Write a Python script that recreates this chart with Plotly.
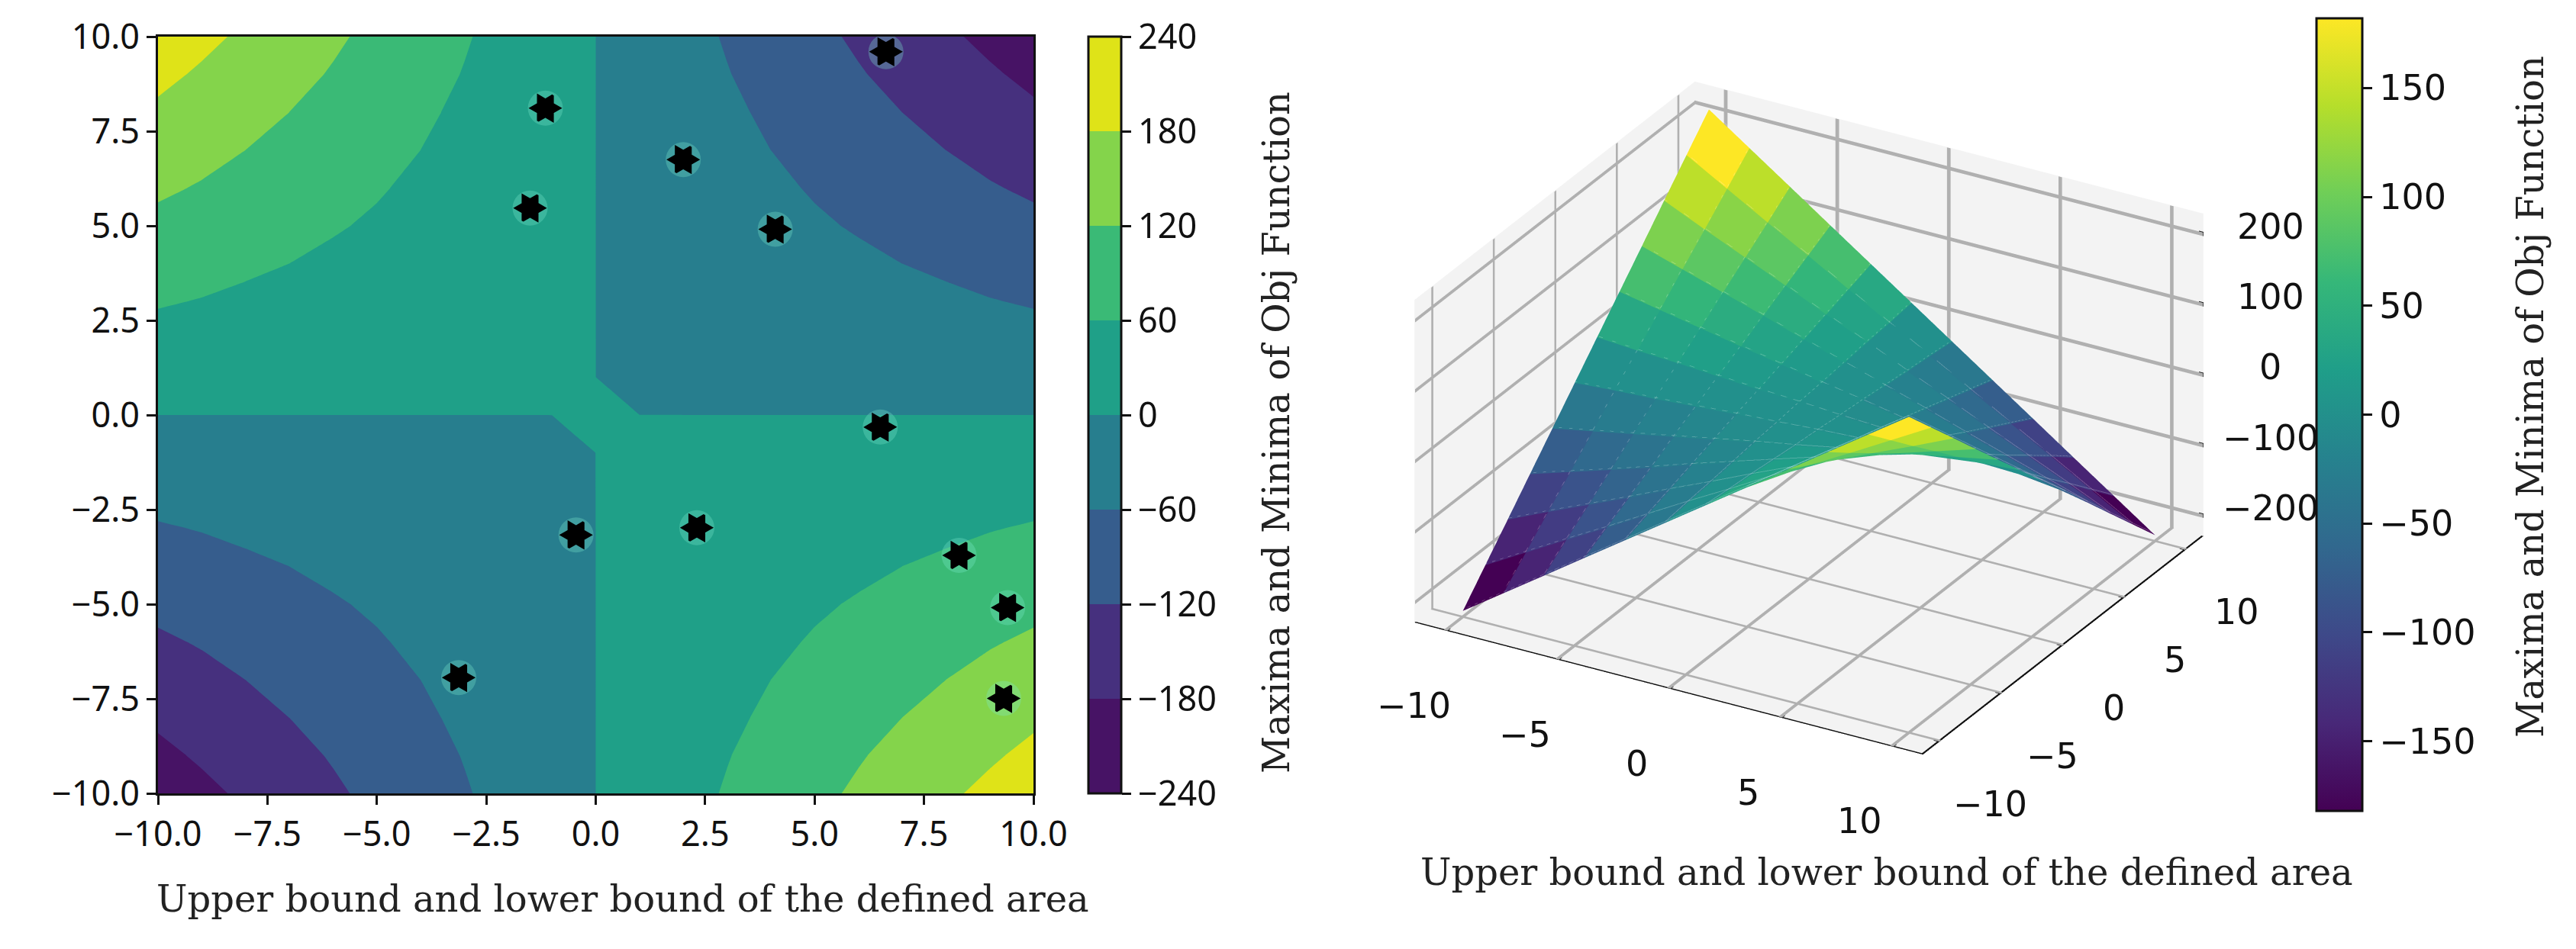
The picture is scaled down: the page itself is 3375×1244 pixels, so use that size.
import plotly.graph_objects as go

W, H = 3375, 1244
def px(v): return (v-8)/W
def py(v): return 1-(v-8)/H

# ---------- left panel data ----------
grid_x = [-10,-9,-8,-7,-6,-5,-4,-3,-2,-1,0,1,2,3,4,5,6,7,8,9,10]
grid_y = [10,9,8,7,6,5,4,3,2,1,0,-1,-2,-3,-4,-5,-6,-7,-8,-9,-10]
O = 0.01
contour_z = [
[214,193,171,150,128,107,86,64,43,21,O,-21,-43,-64,-86,-107,-128,-150,-171,-193,-214],
[193,173,154,135,116,96,77,58,39,19,O,-19,-39,-58,-77,-96,-116,-135,-154,-173,-193],
[171,154,137,120,103,86,68,51,34,17,O,-17,-34,-51,-68,-86,-103,-120,-137,-154,-171],
[150,135,120,105,90,75,60,45,30,15,O,-15,-30,-45,-60,-75,-90,-105,-120,-135,-150],
[128,116,103,90,77,64,51,39,26,13,O,-13,-26,-39,-51,-64,-77,-90,-103,-116,-128],
[107,96,86,75,64,54,43,32,21,11,O,-11,-21,-32,-43,-54,-64,-75,-86,-96,-107],
[86,77,68,60,51,43,34,26,17,9,O,-9,-17,-26,-34,-43,-51,-60,-68,-77,-86],
[64,58,51,45,39,32,26,19,13,6,O,-6,-13,-19,-26,-32,-39,-45,-51,-58,-64],
[43,39,34,30,26,21,17,13,9,4,O,-4,-9,-13,-17,-21,-26,-30,-34,-39,-43],
[21,19,17,15,13,11,9,6,4,2,O,-2,-4,-6,-9,-11,-13,-15,-17,-19,-21],
[O,O,O,O,O,O,O,O,O,O,O,O,O,O,O,O,O,O,O,O,O],
[-21,-19,-17,-15,-13,-11,-9,-6,-4,-2,O,2,4,6,9,11,13,15,17,19,21],
[-43,-39,-34,-30,-26,-21,-17,-13,-9,-4,O,4,9,13,17,21,26,30,34,39,43],
[-64,-58,-51,-45,-39,-32,-26,-19,-13,-6,O,6,13,19,26,32,39,45,51,58,64],
[-86,-77,-68,-60,-51,-43,-34,-26,-17,-9,O,9,17,26,34,43,51,60,68,77,86],
[-107,-96,-86,-75,-64,-54,-43,-32,-21,-11,O,11,21,32,43,54,64,75,86,96,107],
[-128,-116,-103,-90,-77,-64,-51,-39,-26,-13,O,13,26,39,51,64,77,90,103,116,128],
[-150,-135,-120,-105,-90,-75,-60,-45,-30,-15,O,15,30,45,60,75,90,105,120,135,150],
[-171,-154,-137,-120,-103,-86,-68,-51,-34,-17,O,17,34,51,68,86,103,120,137,154,171],
[-193,-173,-154,-135,-116,-96,-77,-58,-39,-19,O,19,39,58,77,96,116,135,154,173,193],
[-214,-193,-171,-150,-128,-107,-86,-64,-43,-21,O,21,43,64,86,107,128,150,171,193,214],
]
star_x = [6.63,-1.15,2.0,-1.5,4.1,6.5,-0.45,2.31,8.3,9.41,9.32,-3.13]
star_y = [9.6,8.11,6.75,5.47,4.91,-0.32,-3.17,-2.98,-3.71,-5.09,-7.49,-6.94]
band_colors = ["#471365","#46307e","#365d8d","#277e8e","#1fa088","#3aba76","#84d44b","#dfe318"]

# ---------- right panel data ----------
surf_x = [-10,-8.18,-6.36,-4.55,-2.73,-0.91,0.91,2.73,4.55,6.36,8.18,10]
surf_y = [10,8.18,6.36,4.55,2.73,0.91,-0.91,-2.73,-4.55,-6.36,-8.18,-10]
surf_z = [
[220,180,140,100,60,20,-20,-60,-100,-140,-180,-220],
[180,147,114,82,49,16,-16,-49,-82,-114,-147,-180],
[140,114,89,64,38,13,-13,-38,-64,-89,-114,-140],
[100,82,64,46,27,9,-9,-27,-46,-64,-82,-100],
[60,49,38,27,16,5,-5,-16,-27,-38,-49,-60],
[20,16,13,9,5,2,-2,-5,-9,-13,-16,-20],
[-20,-16,-13,-9,-5,-2,2,5,9,13,16,20],
[-60,-49,-38,-27,-16,-5,5,16,27,38,49,60],
[-100,-82,-64,-46,-27,-9,9,27,46,64,82,100],
[-140,-114,-89,-64,-38,-13,13,38,64,89,114,140],
[-180,-147,-114,-82,-49,-16,16,49,82,114,147,180],
[-220,-180,-140,-100,-60,-20,20,60,100,140,180,220],
]
xy_ticks = [-10,-5,0,5,10]
z_ticks = [-200,-100,0,100,200]
XL, ZL = 11.4, 229   # half-extent of the 3D box

label_text_x = "Upper bound and lower bound of the defined area"
label_text_c = "Maxima and Minima of Obj Function"
TICK = dict(family="Noto Sans", size=45, color="#111111")
TICK3 = dict(family="DejaVu Sans", size=46, color="#111111")
SERIF = dict(family="DejaVu Serif", size=48, color="#222222")

scale = []
for n, c in enumerate(band_colors):
    scale += [[n/8, c], [(n+1)/8, c]]

fig = go.Figure()
fig.add_trace(go.Contour(
    x=grid_x, y=grid_y, z=contour_z, zmin=-240, zmax=240, colorscale=scale,
    autocontour=False, contours=dict(start=-240, end=240, size=60, coloring="fill", showlines=False),
    line=dict(width=0, smoothing=0), hoverinfo="skip",
    colorbar=dict(x=px(1426), xanchor="left", xpad=0, y=py(48), yanchor="top", ypad=0,
                  len=992/H, lenmode="fraction", thickness=43, thicknessmode="pixels",
                  tickvals=[-240,-180,-120,-60,0,60,120,180,240], ticks="outside", ticklen=12, tickwidth=3,
                  tickcolor="#111", tickfont=TICK, outlinecolor="#111", outlinewidth=3),
))
fig.add_trace(go.Scatter(x=star_x, y=star_y, mode="markers", showlegend=False, hoverinfo="skip",
                         marker=dict(symbol="circle", size=46, color="rgba(125,235,205,0.3)", line=dict(width=0))))
fig.add_trace(go.Scatter(
    x=star_x, y=star_y, mode="markers", showlegend=False,
    marker=dict(symbol="hexagram", size=29, color="black", angle=30, line=dict(color="black", width=3)),
))

# box furniture as thin flat ribbons, placed from the tick arrays
def ribbons(segments, color):
    vx, vy, vz, i, j, k = [], [], [], [], [], []
    for p, q, off in segments:
        n = len(vx)
        for a in (p, q):
            for s in (-1, 1):
                vx.append(a[0]+s*off[0]); vy.append(a[1]+s*off[1]); vz.append(a[2]+s*off[2])
        i += [n, n+1]; j += [n+1, n+3]; k += [n+2, n+2]
    return go.Mesh3d(x=vx, y=vy, z=vz, i=i, j=j, k=k, color=color, hoverinfo="skip",
                     lighting=dict(ambient=1, diffuse=0, specular=0, roughness=1, fresnel=0))

e = 0.03; ez = 0.6
gw, gz_w = 0.08, 2.6
grid_segments = []
for t in xy_ticks:
    grid_segments.append(((t,-XL,-ZL+ez), (t,XL,-ZL+ez), (gw,0,0)))
    grid_segments.append(((t,XL-e,-ZL), (t,XL-e,ZL), (gw,0,0)))
    grid_segments.append(((-XL,t,-ZL+ez), (XL,t,-ZL+ez), (0,gw,0)))
    grid_segments.append(((-XL+e,t,-ZL), (-XL+e,t,ZL), (0,gw,0)))
for v in z_ticks:
    grid_segments.append(((-XL,XL-e,v), (XL,XL-e,v), (0,0,gz_w)))
    grid_segments.append(((-XL+e,-XL,v), (-XL+e,XL,v), (0,0,gz_w)))
fig.add_trace(ribbons(grid_segments, "#b0b0b0"))

aw, az_w = 0.09, 3.0
axis_segments = [
    ((-XL,-XL,-ZL), (XL,-XL,-ZL), (0,aw,0)),
    ((XL,-XL,-ZL), (XL,XL,-ZL), (aw,0,0)),
    ((XL,XL,-ZL), (XL,XL,ZL), (aw,-aw,0)),
]
for t in xy_ticks:
    axis_segments.append(((t,-XL+0.25,-ZL), (t,-XL-0.35,-ZL), (aw,0,0)))
    axis_segments.append(((XL-0.25,t,-ZL), (XL+0.35,t,-ZL), (0,aw,0)))
for v in z_ticks:
    axis_segments.append(((XL-0.2,XL,v), (XL+0.3,XL,v), (0,0,az_w)))
fig.add_trace(ribbons(axis_segments, "#111111"))

mx, my, mz, fi, fj, fk, fc = [], [], [], [], [], [], []
ny, nx = len(surf_y), len(surf_x)
for r in range(ny):
    for c in range(nx):
        mx.append(surf_x[c]); my.append(surf_y[r]); mz.append(surf_z[r][c])
for r in range(ny-1):
    for c in range(nx-1):
        a, b, d, f = r*nx+c, r*nx+c+1, (r+1)*nx+c, (r+1)*nx+c+1
        mean = (mz[a]+mz[b]+mz[d]+mz[f])/4
        fi += [a, b]; fj += [b, f]; fk += [d, d]; fc += [mean, mean]

viridis = ["#440154","#482878","#3e4989","#31688e","#26828e","#1f9e89","#35b779","#6ece58","#b5de2b","#fde725"]
fig.add_trace(go.Mesh3d(
    x=mx, y=my, z=mz, i=fi, j=fj, k=fk, intensity=fc, intensitymode="cell",
    colorscale=[[n/9, c] for n, c in enumerate(viridis)], cmin=-182, cmax=182, flatshading=True,
    lighting=dict(ambient=1, diffuse=0, specular=0, roughness=1, fresnel=0),
    hoverinfo="skip",
    colorbar=dict(x=px(3035), xanchor="left", xpad=0, y=py(24), yanchor="top", ypad=0,
                  len=1039/H, lenmode="fraction", thickness=60, thicknessmode="pixels",
                  tickvals=[-150,-100,-50,0,50,100,150], ticks="outside", ticklen=12, tickwidth=3,
                  tickcolor="#111", tickfont=TICK3, outlinecolor="#111", outlinewidth=3),
))

# faint lighter seams between surface cells, lifted just above the sheet
sx, sy, sz = [], [], []
for r in range(ny):
    for c in range(nx):
        sx.append(surf_x[c]); sy.append(surf_y[r]); sz.append(surf_z[r][c]+2)
    sx.append(None); sy.append(None); sz.append(None)
for c in range(nx):
    for r in range(ny):
        sx.append(surf_x[c]); sy.append(surf_y[r]); sz.append(surf_z[r][c]+2)
    sx.append(None); sy.append(None); sz.append(None)
fig.add_trace(go.Scatter3d(x=sx, y=sy, z=sz, mode="lines", hoverinfo="skip", showlegend=False,
                           opacity=0.22, line=dict(color="#ffffff", width=2)))

axis2d = dict(showgrid=False, zeroline=False, showline=True, mirror=True, linecolor="#111", linewidth=3,
              ticks="outside", ticklen=12, tickwidth=3, tickcolor="#111", tickfont=TICK,
              tickvals=[-10,-7.5,-5,-2.5,0,2.5,5,7.5,10], tickformat=".1f", range=[-10,10])
axis3d = dict(title="", showbackground=True, backgroundcolor="#f3f3f3", showgrid=False, zeroline=False,
              showline=False, ticks="", showticklabels=False, showspikes=False)

scene_labels = []
for t in xy_ticks:
    scene_labels.append(dict(x=t, y=-XL, z=-ZL, text=f"{t}".replace("-", "\u2212"), showarrow=False, font=TICK3,
                             xanchor="center", yanchor="middle", xshift=-42, yshift=-98))
    scene_labels.append(dict(x=XL, y=t, z=-ZL, text=f"{t}".replace("-", "\u2212"), showarrow=False, font=TICK3,
                             xanchor="center", yanchor="middle", xshift=66, yshift=-82))
for v in z_ticks:
    scene_labels.append(dict(x=XL, y=XL, z=v, text=f"{v}".replace("-", "\u2212"), showarrow=False, font=TICK3,
                             xanchor="center", yanchor="middle", xshift=88, yshift=10))

fig.update_layout(
    width=W, height=H, margin=dict(l=0, r=0, t=0, b=0, autoexpand=False), paper_bgcolor="white", plot_bgcolor="white",
    showlegend=False,
    xaxis=dict(domain=[px(207), px(1354)], **axis2d),
    yaxis=dict(domain=[py(1040), py(48)], **axis2d),
    scene=dict(
        domain=dict(x=[px(1715), px(3025)], y=[py(1086), py(10)]),
        xaxis=dict(range=[-XL,XL], **axis3d),
        yaxis=dict(range=[-XL,XL], **axis3d),
        zaxis=dict(range=[-ZL,ZL], **axis3d),
        aspectmode="manual", aspectratio=dict(x=1.43, y=1.366, z=0.88),
        camera=dict(eye=dict(x=0.664, y=-1.15, z=0.669), center=dict(x=0, y=0, z=0),
                    up=dict(x=0, y=0, z=1), projection=dict(type="orthographic")),
        annotations=scene_labels,
    ),
    annotations=[
        dict(text=label_text_x, x=px(816), y=py(1178), xref="paper", yref="paper", showarrow=False, font=SERIF,
             xanchor="center", yanchor="middle"),
        dict(text=label_text_x, x=px(2472), y=py(1143), xref="paper", yref="paper", showarrow=False, font=SERIF,
             xanchor="center", yanchor="middle"),
        dict(text=label_text_c, x=px(1672), y=py(567), xref="paper", yref="paper", showarrow=False, font=SERIF,
             textangle=-90, xanchor="center", yanchor="middle"),
        dict(text=label_text_c, x=px(3315), y=py(520), xref="paper", yref="paper", showarrow=False, font=SERIF,
             textangle=-90, xanchor="center", yanchor="middle"),
    ],
)
fig.write_html("out.html")
